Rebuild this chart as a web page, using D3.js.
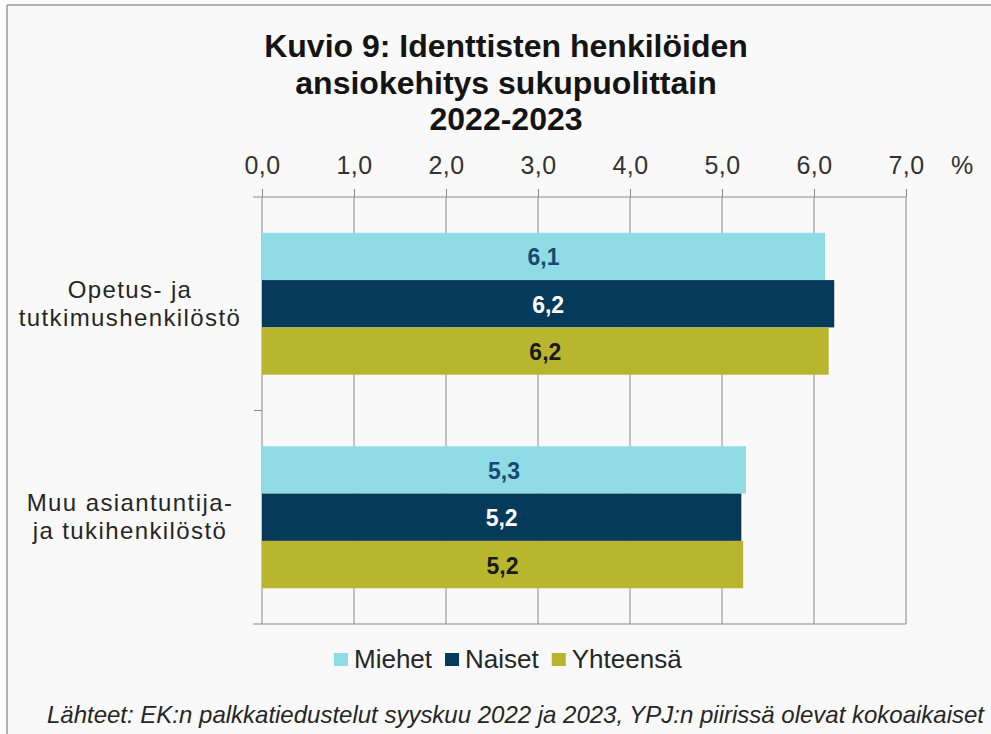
<!DOCTYPE html>
<html>
<head>
<meta charset="utf-8">
<script src="https://cdn.jsdelivr.net/npm/d3@7"></script>
<style>
  html, body { margin: 0; padding: 0; background: #fbfbfb; }
  svg { display: block; font-family: "Liberation Sans", Arial, sans-serif; }
</style>
</head>
<body>
<div id="chart"></div>
<script>
// Data
const titleLines = ['Kuvio 9: Identtisten henkilöiden', 'ansiokehitys sukupuolittain', '2022-2023'];
const categories = ['Opetus- ja tutkimushenkilöstö', 'Muu asiantuntija- ja tukihenkilöstö'];
const categoryLines = [['Opetus- ja', 'tutkimushenkilöstö'], ['Muu asiantuntija-', 'ja tukihenkilöstö']];
const seriesNames = ['Miehet', 'Naiset', 'Yhteensä'];
const miehet = [6.12, 5.26];
const naiset = [6.22, 5.21];
const yhteensa = [6.16, 5.23];
const xTicks = [0, 1, 2, 3, 4, 5, 6, 7];
const unitLabel = '%';
const source = 'Lähteet: EK:n palkkatiedustelut  syyskuu 2022 ja 2023, YPJ:n piirissä olevat  kokoaikaiset';

const seriesValues = [miehet, naiset, yhteensa];
const colors = ['#8fdbe6', '#063a5b', '#b9b52f'];
const labelColors = ['#174a70', '#ffffff', '#1a1a1a'];

const width = 991;
const height = 734;
const plot = { left: 262, right: 906, top: 197, bottom: 624 };

const svg = d3.select('#chart')
  .append('svg')
  .attr('width', width)
  .attr('height', height);

// frame
svg.append('rect')
  .attr('x', 7).attr('y', 5)
  .attr('width', width).attr('height', height)
  .attr('fill', '#f9f9f9');
svg.append('line')
  .attr('x1', 7).attr('x2', width).attr('y1', 5).attr('y2', 5)
  .attr('stroke', '#9a9a9a').attr('stroke-width', 1.5);
svg.append('line')
  .attr('x1', 7).attr('x2', 7).attr('y1', 5).attr('y2', height)
  .attr('stroke', '#9a9a9a').attr('stroke-width', 1.5);

// title
svg.append('text')
  .attr('x', 506)
  .attr('text-anchor', 'middle')
  .style('font-size', '32px')
  .style('font-weight', 'bold')
  .attr('fill', '#141414')
  .selectAll('tspan')
  .data(titleLines)
  .enter()
  .append('tspan')
  .attr('x', 506)
  .attr('y', (d, i) => [57, 94, 130][i])
  .text(d => d);

const x = d3.scaleLinear()
  .domain([0, 7])
  .range([plot.left, plot.right]);

const y = d3.scaleBand()
  .domain(categories)
  .range([plot.top, plot.bottom])
  .paddingInner(0.335)
  .paddingOuter(0.1675);

const ySub = d3.scaleBand()
  .domain(seriesNames)
  .range([0, y.bandwidth()]);

const fmt = v => d3.format('.1f')(v).replace('.', ',');

// gridlines
svg.append('g')
  .selectAll('line')
  .data(xTicks)
  .enter()
  .append('line')
  .attr('x1', d => x(d)).attr('x2', d => x(d))
  .attr('y1', plot.top).attr('y2', plot.bottom)
  .attr('stroke', '#8a8a8a')
  .attr('stroke-width', 1);

// top axis
const axis = svg.append('g')
  .attr('transform', `translate(0,${plot.top})`)
  .call(d3.axisTop(x).tickValues(xTicks).tickFormat(fmt).tickSize(8).tickPadding(15));
axis.select('.domain').remove();
axis.selectAll('line').attr('stroke', '#8a8a8a');
axis.selectAll('text')
  .style('font-size', '25px')
  .style('font-family', '"Liberation Sans", Arial, sans-serif')
  .style('letter-spacing', '0.5px')
  .attr('fill', '#333');

svg.append('text')
  .attr('x', 962).attr('y', 174)
  .attr('text-anchor', 'middle')
  .style('font-size', '25px')
  .attr('fill', '#333')
  .text(unitLabel);

// horizontal axis lines
[plot.top, plot.bottom].forEach(yy => {
  svg.append('line')
    .attr('x1', 253).attr('x2', plot.right)
    .attr('y1', yy).attr('y2', yy)
    .attr('stroke', '#8a8a8a');
});
svg.append('line')
  .attr('x1', 254).attr('x2', plot.left)
  .attr('y1', (plot.top + plot.bottom) / 2).attr('y2', (plot.top + plot.bottom) / 2)
  .attr('stroke', '#8a8a8a');

// bars
const groups = svg.append('g')
  .selectAll('g')
  .data(categories)
  .enter()
  .append('g')
  .attr('transform', d => `translate(0,${y(d)})`);

seriesNames.forEach((name, si) => {
  groups.append('rect')
    .attr('x', x(0))
    .attr('y', ySub(name))
    .attr('width', (d, ci) => x(seriesValues[si][ci]) - x(0))
    .attr('height', ySub.bandwidth())
    .attr('fill', colors[si]);

  groups.append('text')
    .attr('x', (d, ci) => (x(0) + x(seriesValues[si][ci])) / 2)
    .attr('y', ySub(name) + ySub.bandwidth() / 2 + 1)
    .attr('text-anchor', 'middle')
    .attr('dominant-baseline', 'central')
    .style('font-size', '23px')
    .style('font-weight', 'bold')
    .attr('fill', labelColors[si])
    .text((d, ci) => fmt(seriesValues[si][ci]));
});

// category labels
categories.forEach((cat, ci) => {
  const cy = y(cat) + y.bandwidth() / 2;
  svg.append('text')
    .attr('text-anchor', 'middle')
    .style('font-size', '24px')
    .style('letter-spacing', '1.4px')
    .attr('fill', '#262626')
    .selectAll('tspan')
    .data(categoryLines[ci])
    .enter()
    .append('tspan')
    .attr('x', 130)
    .attr('y', (d, i) => cy - 6 + i * 28)
    .text(d => d);
});

// legend
let lx = 334;
seriesNames.forEach((name, si) => {
  svg.append('rect')
    .attr('x', lx).attr('y', 653)
    .attr('width', 14).attr('height', 13)
    .attr('fill', colors[si]);
  const t = svg.append('text')
    .attr('x', lx + 20).attr('y', 668)
    .style('font-size', '26px')
    .attr('fill', '#262626')
    .text(name);
  lx += 20 + t.node().getComputedTextLength() + 13;
});

// source note
svg.append('text')
  .attr('x', 47).attr('y', 723)
  .attr('textLength', 937)
  .attr('lengthAdjust', 'spacingAndGlyphs')
  .style('font-size', '24px')
  .style('font-style', 'italic')
  .attr('fill', '#262626')
  .text(source);
</script>
</body>
</html>
